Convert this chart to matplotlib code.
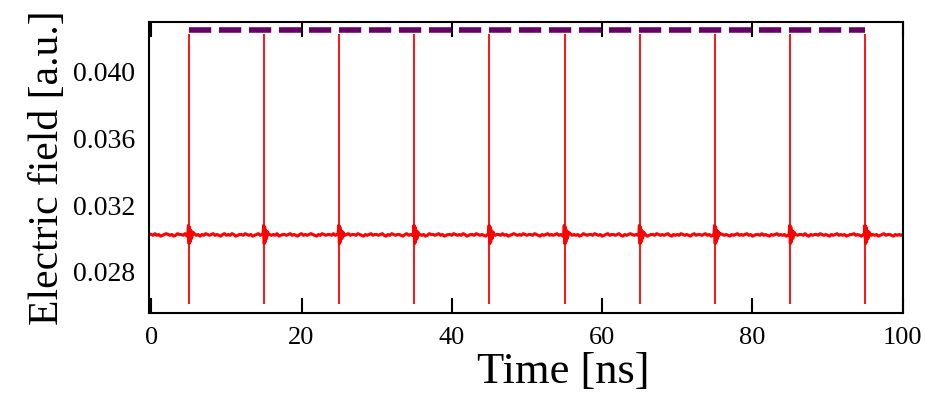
import numpy as np
import matplotlib.pyplot as plt

# pulse times [ns] and spike extent
pulse_t = [5, 15, 25, 35, 45, 55, 65, 75, 85, 95]
spike_lo = 0.0261
spike_hi = 0.0423

# dashed reference level
ref_level = 0.0425
ref_t = [5, 95]

# baseline trace, sampled every 0.25 ns, offsets in units of 5e-5 around base
base_level = 0.0302
base_t_step = 0.25
base_noise = [
    1, 0, 2, 0, 1, -1, 0, 1, 2, 1, 0, 1, -1, 0, 2, 1, 1, 0, 2, -1,
    1, 0, 1, 2, 0, 1, -1, 1, 0, 2, 1, 0, 1, 2, 0, 1, 0, -1, 1, 2,
    0, 1, 0, 2, 1, -1, 0, 1, 1, 0, 2, 1, 0, 1, -1, 0, 1, 2, 0, 1,
    1, 0, 2, 1, 0, 1, 0, 2, -1, 0, 1, 1, 0, 1, 2, 0, 1, 0, -1, 1,
    2, 0, 1, 0, 1, 2, 1, 0, -1, 1, 0, 2, 1, 0, 1, 1, 0, 2, 0, 1,
    0, 1, -1, 0, 1, 2, 0, 1, 1, 0, 2, 1, 0, -1, 1, 0, 1, 2, 0, 1,
    1, 0, 1, 2, 0, -1, 1, 0, 2, 1, 0, 1, 1, 0, -1, 1, 2, 0, 1, 0,
    2, 1, 0, 1, 0, 1, -1, 0, 2, 1, 1, 0, 1, 2, 0, 1, -1, 0, 1, 1,
    0, 2, 1, 0, 1, 0, 2, 1, -1, 0, 1, 1, 0, 2, 1, 0, 1, 0, -1, 1,
    0, 1, 2, 0, 1, 1, 0, 2, 0, 1, -1, 0, 1, 2, 1, 0, 1, 0, 2, 1,
    0, 1, 1, 0, 2, 1, 0, -1, 1, 0, 1, 2, 0, 1, 0, 1, 2, 0, 1, -1,
    0, 1, 1, 2, 0, 1, 0, 1, -1, 0, 2, 1, 0, 1, 1, 0, 2, 1, 0, 1,
    -1, 0, 1, 2, 0, 1, 1, 0, 1, 2, 0, -1, 1, 0, 1, 2, 1, 0, 1, 0,
    2, 1, 0, 1, -1, 0, 1, 1, 0, 2, 1, 0, 1, 0, 1, 2, 0, -1, 1, 0,
    1, 0, 2, 1, 0, 1, 0, -1, 1, 2, 0, 1, 1, 0, 1, 2, 0, 1, -1, 0,
    1, 1, 0, 2, 1, 0, 1, 0, -1, 1, 0, 1, 2, 0, 1, 0, 1, 2, 0, 1,
    -1, 0, 1, 1, 0, 2, 0, 1, 0, -1, 1, 0, 1, 2, 0, 1, 0, 1, -1, 0,
    1, 2, 0, 1, 0, 1, 1, 0, 2, 0, -1, 1, 0, 1, 1, 0, 2, 1, 0, 1,
    0, -1, 1, 0, 1, 2, 0, 1, 0, 1, -1, 0, 1, 1, 2, 0, 1, 0, -1, 1,
    0, 2, 1, 0, 1, 0, 1, -1, 0, 1, 2, 0, 1, 1, 0, -1, 1, 0, 1, 0,
    1,
]
noise_unit = 5e-5

# ringing at each pulse: time offsets [ns] and amplitudes
ring_dt = [-0.12, -0.04, 0.04, 0.1, 0.17, 0.25, 0.35, 0.5]
ring_amp = [0.0001, 0.0006, -0.0005, 0.0005, -0.0004, 0.0003, -0.0002, 0.0002]

plt.rcParams['font.family'] = ['Liberation Serif', 'DejaVu Serif']

fig = plt.figure(figsize=(9.25, 3.94), dpi=100)
ax = fig.add_axes([0.161, 0.2056, 0.815, 0.7386])

bt = np.arange(len(base_noise)) * base_t_step
bv = base_level + np.array(base_noise) * noise_unit
rt = np.array([p + d for p in pulse_t for d in ring_dt])
rv = np.array([base_level + a for p in pulse_t for a in ring_amp])
t = np.concatenate([bt, rt])
v = np.concatenate([bv, rv])
order = np.argsort(t)
ax.plot(t[order], v[order], color='#ff0000', lw=2.2)

ax.vlines(pulse_t, spike_lo, spike_hi, color='#ff0000', lw=1.3)
ax.plot(ref_t, [ref_level, ref_level], color='#660066', lw=4,
        dashes=(4, 1.4))

ax.set_xlim(-0.3, 100)
ax.set_ylim(0.02554, 0.0430)
ax.set_xticks([0, 20, 40, 60, 80, 100])
ax.set_yticks([0.028, 0.032, 0.036, 0.040])
ax.set_yticklabels(['0.028', '0.032', '0.036', '0.040'])
ax.tick_params(axis='x', direction='in', length=11, width=1.5,
               top=True, labelsize=19, pad=10)
ax.tick_params(axis='y', length=0, labelsize=20, pad=10)
for s in ax.spines.values():
    s.set_linewidth(1.5)

ax.set_xlabel('Time [ns]', fontsize=32)
ax.xaxis.set_label_coords(0.55, -0.135, transform=ax.transAxes)
ax.xaxis.label.set_va('top')
ax.set_ylabel('Electric field [a.u.]', fontsize=30, labelpad=4)

fig.savefig('out.png', dpi=100)
